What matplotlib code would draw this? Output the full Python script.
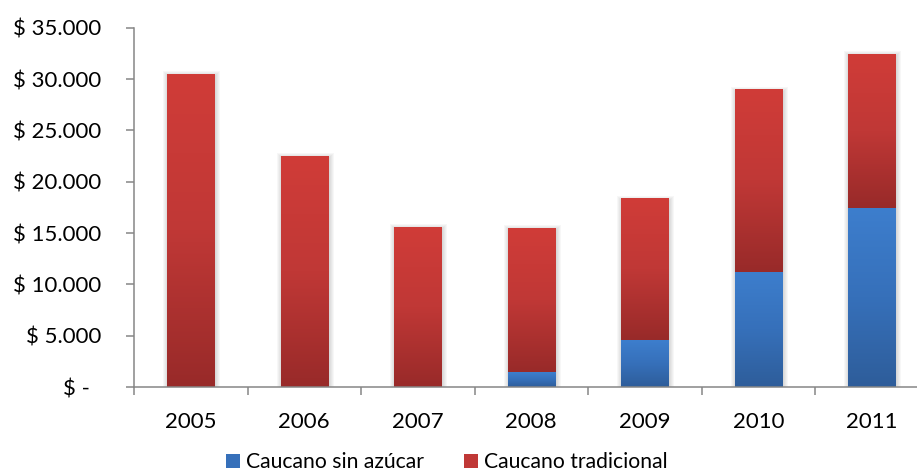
import numpy as np
import matplotlib
matplotlib.use("Agg")
import matplotlib.pyplot as plt
from matplotlib.colors import LinearSegmentedColormap
from matplotlib.patches import Rectangle
from matplotlib.transforms import ScaledTranslation

plt.rcParams['font.family'] = ['Lato', 'DejaVu Sans']

years = ["2005", "2006", "2007", "2008", "2009", "2010", "2011"]
sin_azucar = [0, 0, 0, 1440, 4540, 11170, 17410]
tradicional = [30450, 22470, 15560, 14020, 13750, 17730, 14990]
series_names = ["Caucano sin azúcar", "Caucano tradicional"]
y_ticks = [0, 5000, 10000, 15000, 20000, 25000, 30000, 35000]

W, H, DPI = 917, 474, 100
fig = plt.figure(figsize=(W / DPI, H / DPI), dpi=DPI)
ax = fig.add_axes([134 / W, 87 / H, (928.5 - 134) / W, (446.3 - 87) / H])

red_cmap = LinearSegmentedColormap.from_list(
    "red_grad", [(0.0, "#982A29"), (0.5, "#C03836"), (1.0, "#D03C38")])
blue_cmap = LinearSegmentedColormap.from_list(
    "blue_grad", [(0.0, "#2E5D9A"), (0.5, "#3670BA"), (1.0, "#3D7ECD")])
grad = np.linspace(0, 1, 256).reshape(-1, 1)

x = np.arange(len(years))
bar_w = 0.417
ax.set_xlim(-0.5, len(years) - 0.5)
ax.set_ylim(0, 35000)

# pixel -> data conversion for the soft shadow
px_x = (len(years)) / (928.5 - 134)
px_y = 35000 / (446.3 - 87)

totals = [a + b for a, b in zip(sin_azucar, tradicional)]
for xi, tot in zip(x, totals):
    for k in range(1, 6):
        ax.add_patch(Rectangle(
            (xi - bar_w / 2 - k * px_x + 1.0 * px_x, -k * px_y - 1.5 * px_y),
            bar_w + 2 * k * px_x, tot + 2 * k * px_y,
            facecolor="#000000", alpha=0.03, edgecolor="none", zorder=1))


def gradient_bar(xc, y0, h, cmap):
    if h <= 0:
        return
    ax.imshow(grad, cmap=cmap, origin="lower", aspect="auto",
              extent=(xc - bar_w / 2, xc + bar_w / 2, y0, y0 + h),
              interpolation="bilinear", zorder=2)


for xi, b, r in zip(x, sin_azucar, tradicional):
    gradient_bar(xi, 0, b, blue_cmap)
    gradient_bar(xi, b, r, red_cmap)

ax.set_xlim(-0.5, len(years) - 0.5)
ax.set_ylim(0, 35000)

axis_col = "#868686"
for s in ["top", "right"]:
    ax.spines[s].set_visible(False)
for s in ["left", "bottom"]:
    ax.spines[s].set_color(axis_col)
    ax.spines[s].set_linewidth(1.1)
    ax.spines[s].set_zorder(3)

ax.set_yticks(y_ticks)
ylabels = ["$ -" if v == 0 else "$ " + f"{v:,}".replace(",", ".") for v in y_ticks]
ax.set_yticklabels(ylabels)
ax.tick_params(axis="y", length=5.5, width=1.1, color=axis_col, pad=18,
               labelsize=16, labelcolor="#000000")
for lab, v in zip(ax.get_yticklabels(), y_ticks):
    if v == 0:
        lab.set_transform(lab.get_transform() +
                          ScaledTranslation(-11 / DPI, 0, fig.dpi_scale_trans))

ax.set_xticks(np.arange(-0.5, len(years)), minor=False)
ax.set_xticklabels([])
ax.tick_params(axis="x", which="major", length=5.5, width=1.1, color=axis_col)
ax.set_xticks(x, minor=True)
ax.set_xticklabels(years, minor=True)
ax.tick_params(axis="x", which="minor", length=0, pad=18, labelsize=16,
               labelcolor="#000000")

handles = [Rectangle((0, 0), 1, 1, facecolor="#3670BA", edgecolor="none"),
           Rectangle((0, 0), 1, 1, facecolor="#C03836", edgecolor="none")]
fig.legend(handles, series_names, loc="center", bbox_to_anchor=(447 / W, 12 / H),
           ncol=2, frameon=False, fontsize=15.2, handlelength=0.65,
           handleheight=0.65, handletextpad=0.3, columnspacing=1.9,
           borderaxespad=0, borderpad=0)

fig.savefig("out.png", dpi=DPI)
